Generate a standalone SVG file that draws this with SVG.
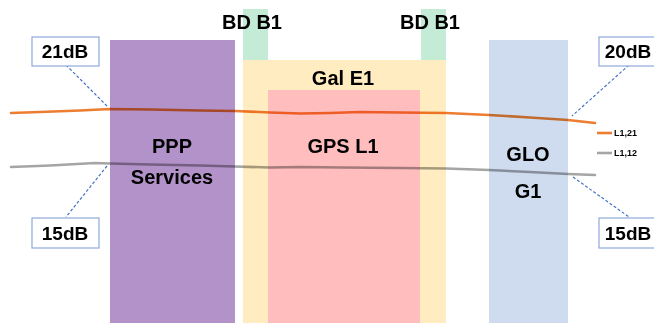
<svg xmlns="http://www.w3.org/2000/svg" width="654" height="323" viewBox="0 0 654 323">
<style>
text{font-family:"Liberation Sans",Arial,sans-serif;font-weight:bold;fill:#000}
.lbl{font-size:20px;text-anchor:middle}
.db{font-size:19px;text-anchor:middle}
.box{fill:#fff;stroke:#8EA9DB;stroke-width:1.2}
.lead{stroke:#4472C4;stroke-width:1.2;stroke-dasharray:3 2;fill:none}
.sig{fill:none;stroke-width:2.6;stroke-linecap:round;stroke-linejoin:round;mix-blend-mode:multiply}
.leg{font-size:9px}
</style>
<rect width="654" height="323" fill="#fff"/>
<g id="bd-b1-left"><rect x="243" y="9" width="25" height="51" fill="#C3EBD5"/><text class="lbl" x="252" y="29">BD B1</text></g>
<g id="bd-b1-right"><rect x="421" y="9" width="25" height="51" fill="#C3EBD5"/><text class="lbl" x="430" y="29">BD B1</text></g>
<g id="ppp"><rect x="110" y="40" width="125" height="283" fill="#B392CA"/><text class="lbl" x="172" y="153">PPP</text><text class="lbl" x="172" y="184">Services</text></g>
<g id="gal-e1"><rect x="243" y="60" width="203" height="263" fill="#FFECC0"/><text class="lbl" x="343" y="85">Gal E1</text></g>
<g id="gps-l1"><rect x="268" y="90" width="152" height="233" fill="#FFBDBE"/><text class="lbl" x="343" y="153">GPS L1</text></g>
<g id="glo-g1"><rect x="489" y="40" width="79" height="283" fill="#CFDCEF"/><text class="lbl" x="528" y="161">GLO</text><text class="lbl" x="528" y="198">G1</text></g>
<g id="connectors">
<path id="orange" class="sig" stroke="#ED7D31" d="M11,113 L40,112 L80,110.5 L110,109 L150,109.5 L200,110.5 L235,111 L270,112.5 L300,113.5 L330,113 L360,112 L400,112.5 L446,113 L489,115 L530,117.5 L568,120 L595,123"/>
<path id="gray" class="sig" stroke="#A5A5A5" d="M11,167 L50,165.5 L95,163 L110,163.5 L150,164.5 L200,165.5 L235,166.5 L270,167.5 L300,167 L343,167.5 L400,168 L446,168.5 L489,170 L530,172 L568,174 L595,175"/>
<line class="lead" x1="66" y1="65" x2="107" y2="106"/>
<line class="lead" x1="629" y1="65" x2="572" y2="116"/>
<line class="lead" x1="107" y1="166" x2="66" y2="217"/>
<line class="lead" x1="573" y1="177" x2="629" y2="217"/>
</g>
<g id="db21"><rect class="box" x="32" y="37" width="67" height="29"/><text class="db" x="65" y="58">21dB</text></g>
<g id="db20"><rect class="box" x="599" y="37" width="67" height="29"/><text class="db" x="628" y="58">20dB</text></g>
<g id="db15l"><rect class="box" x="32" y="218" width="67" height="30"/><text class="db" x="65" y="240">15dB</text></g>
<g id="db15r"><rect class="box" x="599" y="218" width="67" height="30"/><text class="db" x="628" y="240">15dB</text></g>
<g id="legend">
<line x1="597" y1="133" x2="612" y2="133" stroke="#ED7D31" stroke-width="2.6"/>
<text class="leg" x="614" y="136">L1,21</text>
<line x1="597" y1="153" x2="612" y2="153" stroke="#A5A5A5" stroke-width="2.6"/>
<text class="leg" x="614" y="156">L1,12</text>
</g>
</svg>
